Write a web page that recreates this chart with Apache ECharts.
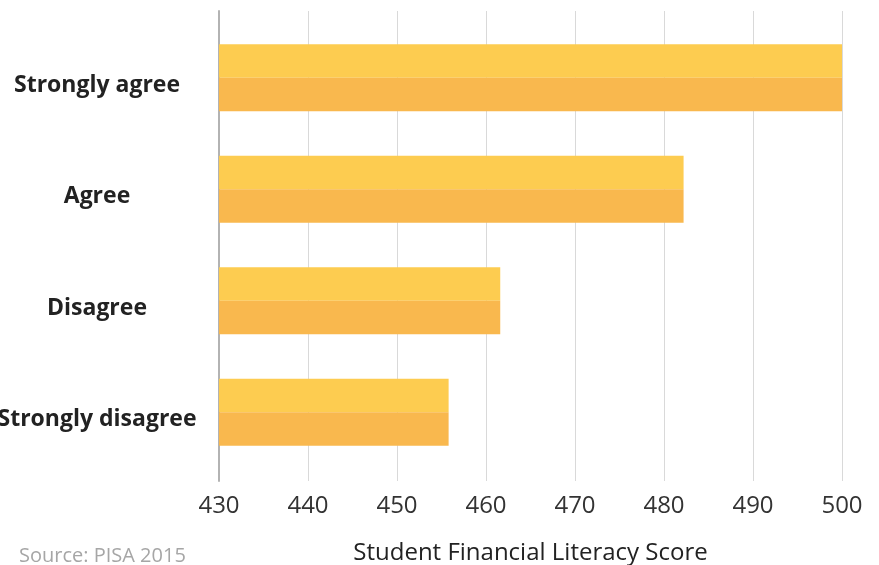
<!DOCTYPE html>
<html><head><meta charset="utf-8">
<script src="https://cdn.jsdelivr.net/npm/echarts@6/dist/echarts.min.js"></script>
<style>html,body{margin:0;padding:0;background:#fff}#c{width:879px;height:565px}</style>
</head><body><div id="c"></div>
<script>
const categories = ['Strongly agree', 'Agree', 'Disagree', 'Strongly disagree'];
const scores = [500, 482.2, 461.6, 455.8];
const xMin = 430, xMax = 500, xStep = 10;
const axisTitle = 'Student Financial Literacy Score';
const sourceText = 'Source: PISA 2015';

const chart = echarts.init(document.getElementById('c'), null, {renderer: 'canvas'});
const font = 'Open Sans';
chart.setOption({
  animation: false,
  grid: [
    {left: 219, right: 37, top: 22, bottom: 97, outerBoundsMode: 'none', containLabel: false},
    {left: 219, right: 37, top: 11, bottom: 84, outerBoundsMode: 'none', containLabel: false}
  ],
  xAxis: [
    {type: 'value', gridIndex: 0, min: xMin, max: xMax, interval: xStep,
     axisLine: {show: false}, axisTick: {show: false}, splitLine: {show: false}, axisLabel: {show: false}},
    {type: 'value', gridIndex: 1, min: xMin, max: xMax, interval: xStep,
     axisLine: {show: false}, axisTick: {show: false},
     splitLine: {show: true, lineStyle: {color: '#d9d9d9', width: 1}},
     axisLabel: {color: '#333', fontFamily: font, fontSize: 24, margin: 13},
     name: axisTitle, nameLocation: 'middle', nameGap: 60,
     nameTextStyle: {color: '#222', fontFamily: font, fontSize: 24}}
  ],
  yAxis: [
    {type: 'category', gridIndex: 0, data: categories, inverse: true,
     axisLine: {show: false}, axisTick: {show: false},
     axisLabel: {align: 'center', verticalAlign: 'top', lineHeight: 15, margin: 122, color: '#222',
                 fontFamily: font, fontWeight: 'bold', fontSize: 23}},
    {type: 'value', gridIndex: 1, min: 0, max: 1,
     axisLine: {show: true, lineStyle: {color: '#b3b3b3', width: 2}},
     axisTick: {show: false}, axisLabel: {show: false}, splitLine: {show: false}}
  ],
  series: [
    {type: 'bar', xAxisIndex: 0, yAxisIndex: 0, data: scores, barWidth: '30%', barGap: '0%',
     itemStyle: {color: '#FDCC50'}},
    {type: 'bar', xAxisIndex: 0, yAxisIndex: 0, data: scores, barWidth: '30%', barGap: '0%',
     itemStyle: {color: '#F9B84E'}}
  ],
  graphic: [
    {type: 'text', left: 19, top: 546, style: {text: sourceText, fill: '#a6a6a6', font: '20px "Open Sans"'}}
  ]
});
</script></body></html>
